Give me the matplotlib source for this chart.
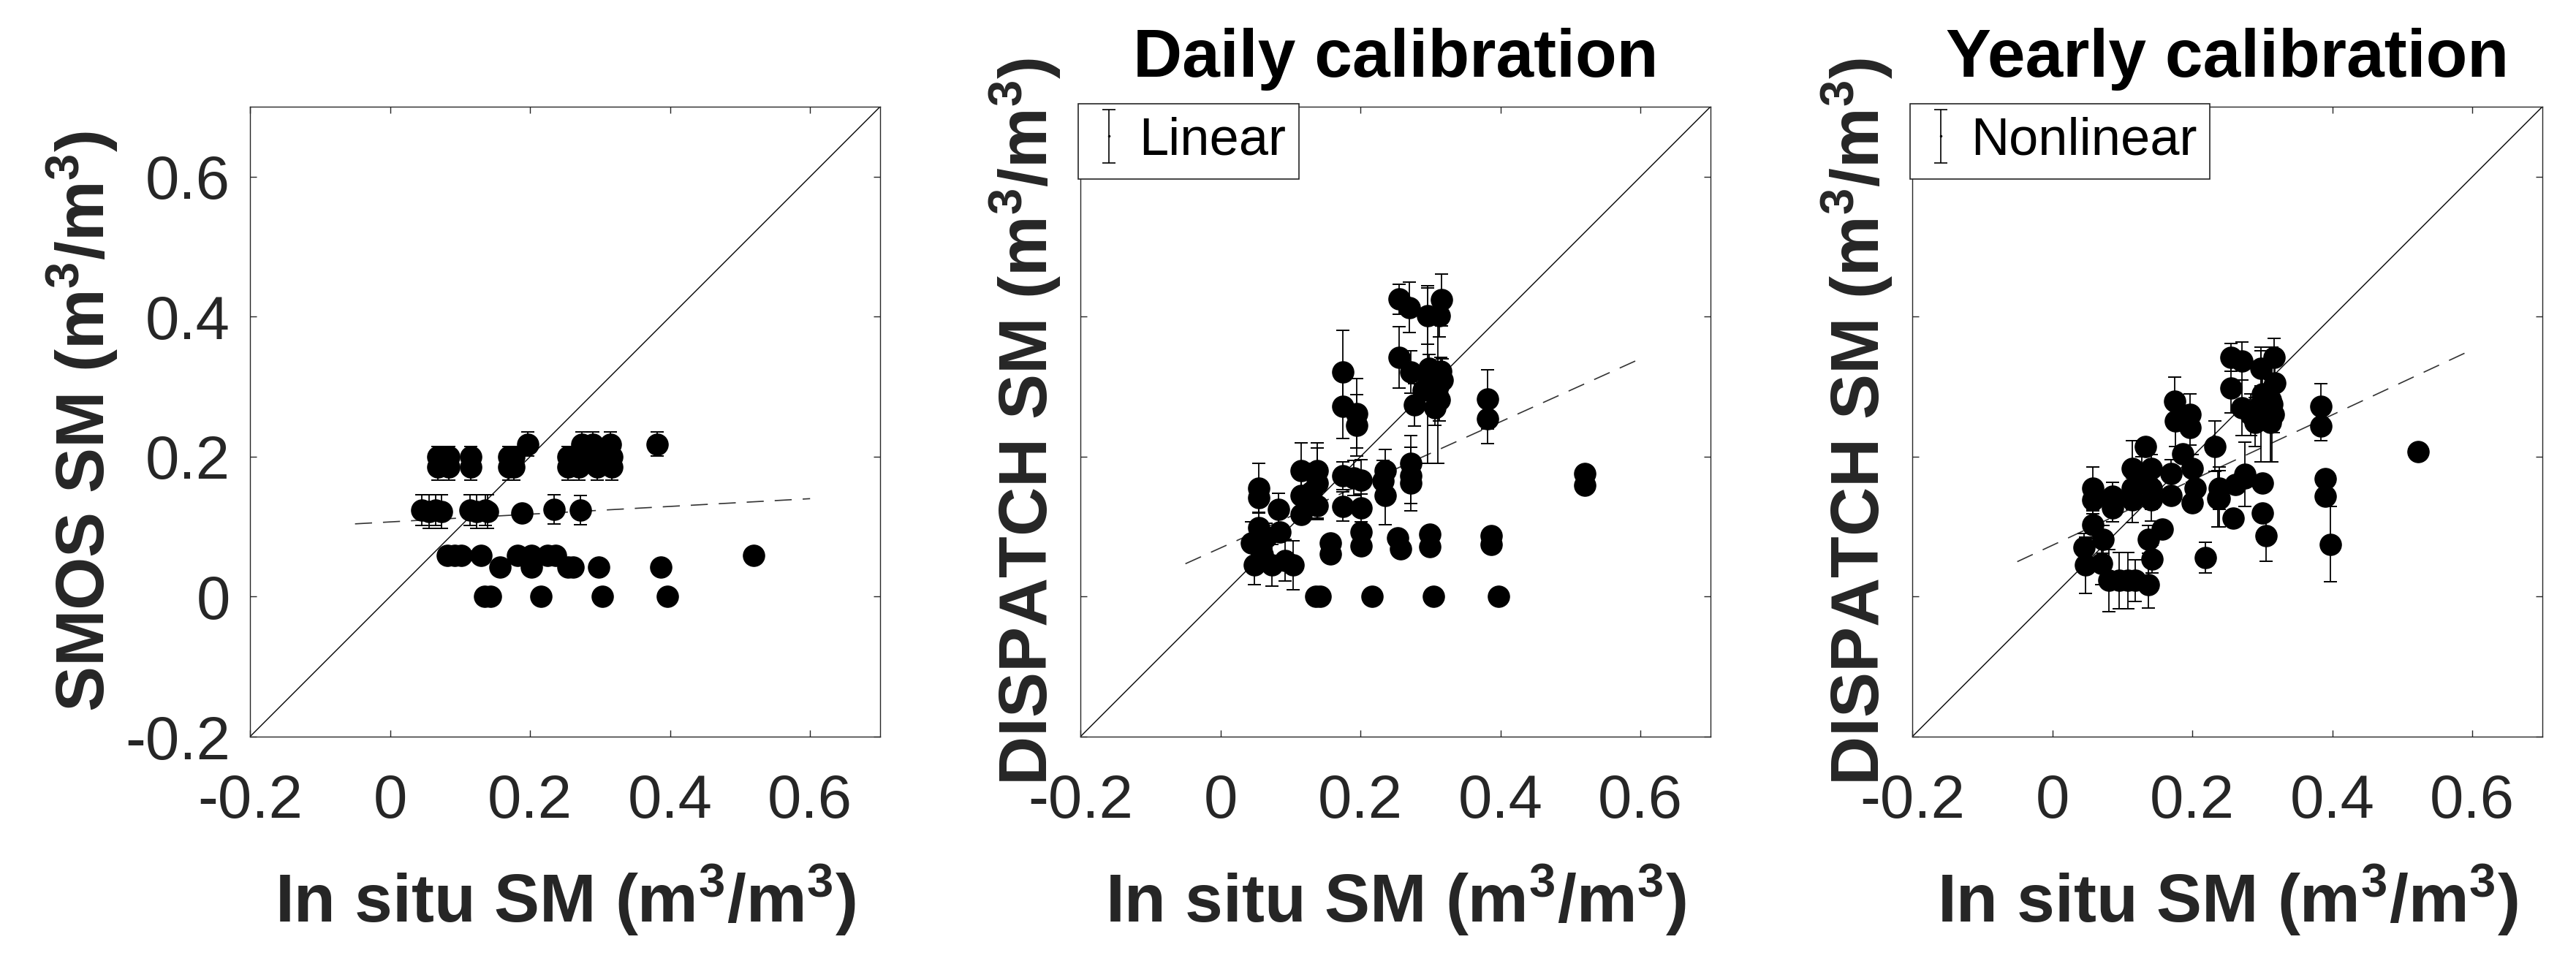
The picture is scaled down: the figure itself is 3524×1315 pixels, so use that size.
import numpy as np
import matplotlib
matplotlib.use('Agg')
import matplotlib.pyplot as plt

# ── fonts ────────────────────────────────────────────────────────────────────
plt.rcParams['font.family'] = ['Liberation Sans', 'DejaVu Sans']
plt.rcParams['mathtext.fontset'] = 'custom'
plt.rcParams['mathtext.rm'] = 'Liberation Sans'
plt.rcParams['mathtext.bf'] = 'Liberation Sans:bold'
plt.rcParams['mathtext.it'] = 'Liberation Sans:italic'
plt.rcParams['axes.unicode_minus'] = False

# ── data ─────────────────────────────────────────────────────────────────────
tick_vals = [-0.2, 0, 0.2, 0.4, 0.6]
tick_labels = ['-0.2', '0', '0.2', '0.4', '0.6']
one_to_one = [-0.2, 0.7]
fit_x = [-0.05, 0.6]

# panel 1: SMOS vs in situ
smos_x = [0.068, 0.068, 0.084, 0.084, 0.115, 0.115, 0.170, 0.170, 0.177, 0.177,
          0.254, 0.254, 0.270, 0.270, 0.296, 0.296, 0.317, 0.317,
          0.197, 0.274, 0.290, 0.315, 0.382,
          0.045, 0.056, 0.065, 0.074, 0.114, 0.124, 0.136, 0.139, 0.188, 0.234, 0.272,
          0.082, 0.092, 0.102, 0.130, 0.182, 0.202, 0.225, 0.236, 0.519,
          0.157, 0.202, 0.254, 0.262, 0.298, 0.387,
          0.135, 0.143, 0.216, 0.303, 0.396]
smos_y = [0.200, 0.185, 0.200, 0.185, 0.200, 0.185, 0.200, 0.185, 0.200, 0.185,
          0.200, 0.185, 0.200, 0.185, 0.200, 0.185, 0.200, 0.185,
          0.218, 0.218, 0.218, 0.218, 0.218,
          0.124, 0.122, 0.124, 0.122, 0.124, 0.122, 0.124, 0.122, 0.120, 0.125, 0.124,
          0.059, 0.059, 0.059, 0.059, 0.059, 0.059, 0.059, 0.059, 0.059,
          0.042, 0.042, 0.042, 0.042, 0.042, 0.042,
          0.0, 0.0, 0.0, 0.0, 0.0]
smos_err = [0.014, 0.019, 0.014, 0.019, 0.014, 0.019, 0.014, 0.019, 0.014, 0.019,
            0.014, 0.019, 0.014, 0.019, 0.014, 0.019, 0.014, 0.019,
            0.017, 0.017, 0.017, 0.017, 0.017,
            0.022, 0.024, 0.022, 0.024, 0.022, 0.024, 0.022, 0.024, 0.010, 0.021, 0.021,
            0, 0, 0, 0, 0, 0, 0, 0, 0,
            0, 0, 0, 0, 0, 0,
            0, 0, 0, 0, 0]
smos_fit = [0.104, 0.140]

# panel 2: DISPATCH daily calibration (linear)
daily_x = [0.136, 0.142, 0.217, 0.304, 0.397,
           0.157, 0.157, 0.201, 0.201, 0.253, 0.257, 0.299, 0.299, 0.387, 0.387, 0.520, 0.520,
           0.175, 0.175, 0.195, 0.195,
           0.255, 0.270, 0.255, 0.272, 0.296, 0.316, 0.313, 0.296, 0.311,
           0.298, 0.315, 0.317, 0.290, 0.309, 0.306, 0.277, 0.313,
           0.272, 0.272, 0.272, 0.382, 0.382,
           0.055, 0.055, 0.083, 0.115, 0.138, 0.115, 0.138, 0.115, 0.130, 0.138,
           0.175, 0.175, 0.201, 0.201, 0.190, 0.235, 0.235, 0.232,
           0.055, 0.085, 0.044, 0.048, 0.074, 0.104, 0.092, 0.060, 0.065]
daily_y = [0.0, 0.0, 0.0, 0.0, 0.0,
           0.077, 0.061, 0.092, 0.073, 0.084, 0.068, 0.089, 0.071, 0.087, 0.075, 0.176, 0.159,
           0.321, 0.272, 0.262, 0.245,
           0.425, 0.413, 0.342, 0.321, 0.401, 0.424, 0.401, 0.317, 0.300,
           0.326, 0.322, 0.310, 0.295, 0.289, 0.270, 0.274, 0.281,
           0.190, 0.173, 0.162, 0.282, 0.254,
           0.155, 0.141, 0.125, 0.180, 0.180, 0.145, 0.162, 0.117, 0.150, 0.130,
           0.173, 0.129, 0.166, 0.127, 0.170, 0.180, 0.145, 0.165,
           0.099, 0.092, 0.077, 0.045, 0.045, 0.045, 0.052, 0.060, 0.085]
daily_err = [0, 0, 0, 0, 0,
             0, 0, 0, 0, 0, 0, 0, 0, 0, 0, 0, 0,
             0.059, 0.046, 0.050, 0.044,
             0.021, 0.036, 0.044, 0.030, 0.040, 0.037, 0.030, 0.127, 0.110,
             0.020, 0.020, 0.030, 0.020, 0.020, 0.025, 0.030, 0.030,
             0.040, 0.040, 0.039, 0.042, 0.035,
             0.035, 0.020, 0.023, 0.040, 0.040, 0.035, 0.050, 0.009, 0.040, 0.020,
             0.020, 0.021, 0.030, 0.020, 0.025, 0.030, 0.042, 0.030,
             0.020, 0, 0.030, 0.028, 0.030, 0.035, 0.030, 0.020, 0.020]
daily_fit = [0.047, 0.340]

# panel 3: DISPATCH yearly calibration (nonlinear)
yearly_x = [0.255, 0.271, 0.317, 0.298, 0.318, 0.312, 0.298, 0.316, 0.290, 0.312, 0.271, 0.283, 0.300,
            0.298, 0.314, 0.255, 0.175, 0.176, 0.197, 0.197, 0.384, 0.384,
            0.522, 0.390, 0.390, 0.397, 0.232, 0.236, 0.258, 0.275, 0.300, 0.300, 0.305, 0.219,
            0.133, 0.114, 0.141, 0.114, 0.141, 0.114, 0.141, 0.128,
            0.186, 0.170, 0.200, 0.204, 0.200, 0.170, 0.238, 0.238, 0.262, 0.275,
            0.058, 0.058, 0.086, 0.086, 0.058, 0.073, 0.045, 0.047,
            0.081, 0.095, 0.108, 0.118, 0.137, 0.142, 0.137, 0.157, 0.070]
yearly_y = [0.342, 0.337, 0.342, 0.326, 0.305, 0.281, 0.270, 0.260, 0.249, 0.249, 0.270, 0.260, 0.290,
            0.275, 0.275, 0.298, 0.279, 0.251, 0.242, 0.260, 0.272, 0.244,
            0.207, 0.169, 0.143, 0.075, 0.215, 0.140, 0.112, 0.175, 0.162, 0.120, 0.087, 0.056,
            0.215, 0.183, 0.183, 0.155, 0.155, 0.138, 0.138, 0.170,
            0.204, 0.176, 0.183, 0.155, 0.134, 0.145, 0.155, 0.140, 0.160, 0.170,
            0.155, 0.138, 0.143, 0.127, 0.103, 0.082, 0.070, 0.045,
            0.023, 0.023, 0.023, 0.023, 0.017, 0.054, 0.082, 0.096, 0.047]
yearly_err = [0.020, 0.027, 0.027, 0.025, 0.030, 0.030, 0.030, 0.026, 0.035, 0.056, 0.040, 0.030, 0.040,
              0.082, 0.082, 0.035, 0.035, 0.036, 0.025, 0.030, 0.032, 0.021,
              0, 0, 0, 0.054, 0.036, 0.040, 0, 0.046, 0, 0, 0.036, 0.022,
              0.008, 0.040, 0.020, 0.030, 0.030, 0.032, 0.030, 0.030,
              0, 0.020, 0.020, 0, 0, 0.010, 0.030, 0.040, 0, 0,
              0.030, 0.020, 0.020, 0.020, 0.020, 0.020, 0.020, 0.040,
              0.044, 0.040, 0.040, 0.030, 0.033, 0.020, 0.020, 0, 0.030]
yearly_fit = [0.050, 0.353]

xlabel = r'In situ SM (m$^{\mathbf{3}}$/m$^{\mathbf{3}}$)'
ylabels = [r'SMOS SM (m$^{\mathbf{3}}$/m$^{\mathbf{3}}$)',
           r'DISPATCH SM (m$^{\mathbf{3}}$/m$^{\mathbf{3}}$)',
           r'DISPATCH SM (m$^{\mathbf{3}}$/m$^{\mathbf{3}}$)']
titles = ['', 'Daily calibration', 'Yearly calibration']
legend_labels = [None, 'Linear', 'Nonlinear']

# ── figure ───────────────────────────────────────────────────────────────────
W, H = 3524, 1315
fig = plt.figure(figsize=(W / 100, H / 100), dpi=100)
fig.patch.set_facecolor('white')

ax_size = 862
ax_bottom_px = 1008
lefts_px = [342, 1478, 2616]
ylabel_x = [-0.231, -0.052, -0.052]
dark = '#262626'

panels = [(smos_x, smos_y, smos_err, smos_fit),
          (daily_x, daily_y, daily_err, daily_fit),
          (yearly_x, yearly_y, yearly_err, yearly_fit)]

for i, (px, py, perr, pfit) in enumerate(panels):
    ax = fig.add_axes([lefts_px[i] / W, (H - ax_bottom_px) / H, ax_size / W, ax_size / H])
    x = np.array(px)
    y = np.array(py)
    err = np.array(perr)
    has = err > 0

    ax.plot(one_to_one, one_to_one, color='k', lw=1.0, zorder=1)
    ax.plot(fit_x, pfit, color='#333333', lw=1.2, dashes=(14, 9), zorder=1)
    ax.errorbar(x[has], y[has], yerr=err[has], fmt='none', ecolor='k',
                elinewidth=1.3, capsize=6.5, capthick=1.4, zorder=2)
    ax.plot(x, y, 'o', color='k', markersize=21, zorder=3)

    ax.set_xlim(-0.2, 0.7)
    ax.set_ylim(-0.2, 0.7)
    ax.set_xticks(tick_vals)
    ax.set_yticks(tick_vals)
    ax.set_xticklabels(tick_labels)
    if i == 0:
        ax.set_yticklabels(tick_labels)
    ax.tick_params(direction='in', length=6.5, width=1.0, top=True, right=True,
                   labelsize=60, colors=dark)
    ax.tick_params(axis='x', pad=36)
    ax.tick_params(axis='y', pad=19.5, labelleft=(i == 0))
    for sp in ax.spines.values():
        sp.set_color(dark)
        sp.set_linewidth(1.0)

    ax.set_xlabel(xlabel, fontsize=67, fontweight='bold', color=dark, va='baseline')
    ax.xaxis.set_label_coords(0.5, -0.2947)
    ax.set_ylabel(ylabels[i], fontsize=67, fontweight='bold', color=dark, va='baseline')
    ax.yaxis.set_label_coords(ylabel_x[i], 0.5)

    if titles[i]:
        ax.set_title(titles[i], fontsize=67, fontweight='bold', color='k', y=1.0476, pad=0)

    if legend_labels[i]:
        # one hidden NaN point so that the errorbar keeps its caps for the legend
        proxy = ax.errorbar([np.nan], [np.nan], yerr=[0.1], fmt='.', color='k',
                            markersize=3, elinewidth=1.2, capsize=6.5, capthick=1.2,
                            label=legend_labels[i])
        leg = ax.legend(handles=[proxy], loc='upper left', bbox_to_anchor=(-0.003, 1.005),
                        borderaxespad=0, fontsize=52, frameon=True, fancybox=False,
                        edgecolor=dark, framealpha=1, borderpad=0.25,
                        handlelength=0.64, handletextpad=0.25)
        leg.get_frame().set_linewidth(1.2)

fig.savefig('out.png', dpi=100)
